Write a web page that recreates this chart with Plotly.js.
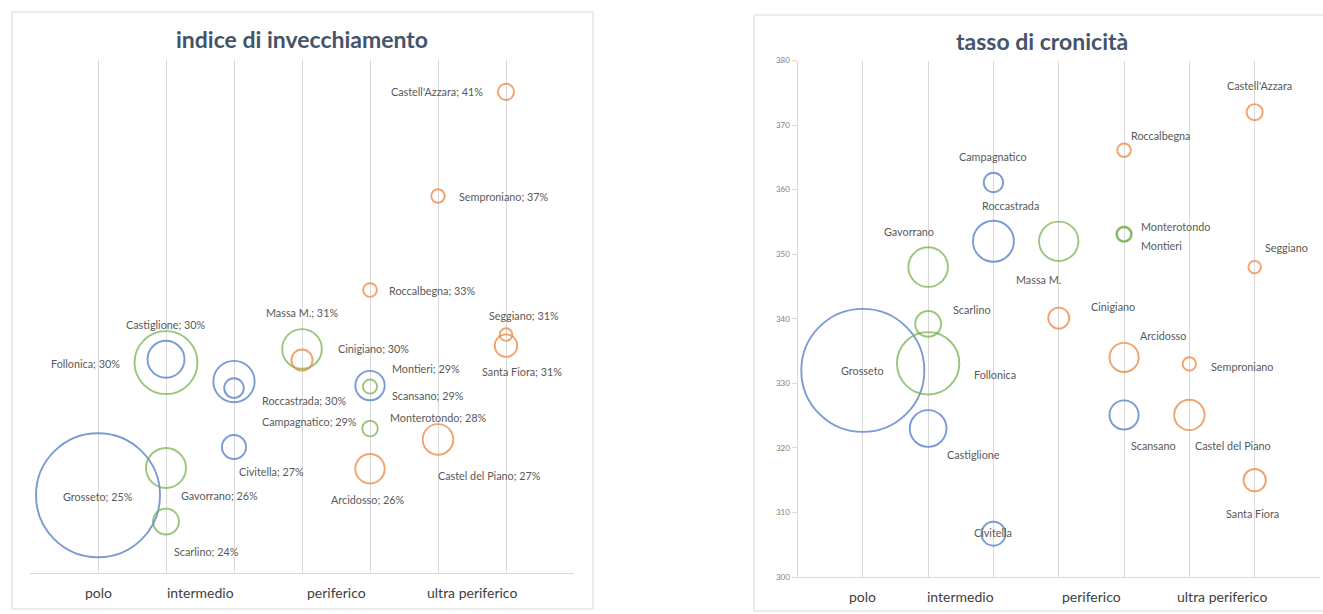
<!DOCTYPE html>
<html><head><meta charset="utf-8">
<script src="https://cdn.plot.ly/plotly-3.0.1.min.js"></script>
<style>html,body{margin:0;padding:0;background:#fff;}#chart{width:1323px;height:614px;}</style>
</head><body><div id="chart"></div>
<script>
// ---------------- DATA ----------------
const towns = ["Grosseto","Follonica","Castiglione","Gavorrano","Scarlino","Roccastrada","Campagnatico","Civitella","Massa M.","Cinigiano","Scansano","Montieri","Monterotondo","Arcidosso","Roccalbegna","Castel del Piano","Semproniano","Castell'Azzara","Seggiano","Santa Fiora"];
const zones = ["Grossetana","Colline Metallifere","Grossetana","Colline Metallifere","Colline Metallifere","Grossetana","Grossetana","Grossetana","Colline Metallifere","Amiata","Grossetana","Colline Metallifere","Colline Metallifere","Amiata","Amiata","Amiata","Amiata","Amiata","Amiata","Amiata"];
const classPos = [1,2,2,2,2,3,3,3,4,4,5,5,5,5,5,6,6,7,7,7];
// bubble size (population, thousands)
const popSize = [82,21.1,7.3,8.5,3.6,9.1,2.05,3.1,8.4,2.4,4.6,1.06,1.3,4.6,1.0,5.0,0.96,1.4,0.85,2.7];
const invecchiamento = [0.2509,0.3034,0.3047,0.2617,0.2405,0.2959,0.2933,0.2700,0.3088,0.3044,0.2943,0.2939,0.2773,0.2614,0.3321,0.2730,0.3693,0.4105,0.3145,0.3101];
const cronicita = [332.0,333.1,323.0,348.0,339.2,352.0,361.1,306.7,352.0,340.1,325.1,353.1,353.1,334.0,366.1,325.1,333.0,372.0,348.0,315.0];
const categories = ["polo","intermedio","periferico","ultra periferico"];
const categoryPos = [1,2.5,4.5,6.5];
const zoneList = ["Grossetana","Colline Metallifere","Amiata"];
const titles = ["indice di invecchiamento","tasso di cronicità"];

// ---------------- STYLE ----------------
const zoneColors = {"Grossetana":"#4472C4","Colline Metallifere":"#70AD47","Amiata":"#ED7D31"};
// label placement: [anchor, dx, dy] in px from bubble centre (dy down)
const leftLbl = [["c",0,1],["r",-44,1],["c",0,-35],["l",13,28],["l",6,30],["l",26,19],["l",26,33],["c",37,24],["c",0,-36],["l",34,-12],["l",20,10],["l",20,-18],["l",18,-11],["c",-3,31],["l",17,0],["c",51,36],["l",19,0],["r",-21,0],["c",18,-19],["c",16,26]];
const rightLbl = [["c",0,0],["l",44,11],["c",45,26],["c",-19,-36],["l",23,-14],["c",17,-36],["c",0,-26],["c",0,-1],["c",-20,38],["l",30,-12],["c",29,31],["l",15,11],["l",15,-8],["l",14,-22],["l",5,-15],["c",44,31],["l",20,3],["c",5,-27],["l",8,-20],["c",-2,33]];

const W = 1323, H = 614;
const px = v => v / W, py = v => 1 - v / H;
const FONT = "Lato, 'Open Sans', sans-serif";
const GRID = "#D9D9D9";
const LBL = "#595959";

const maxPop = Math.max(...popSize);
const sizeRefL = 2 * maxPop / (124 * 124);
const sizeRefR = 2 * maxPop / (123 * 123);

const traces = [];
function addTraces(vals, xa, ya, sref) {
  zoneList.forEach(z => {
    const idx = towns.map((t, i) => i).filter(i => zones[i] === z);
    traces.push({
      type: "scatter", mode: "markers", name: z, xaxis: xa, yaxis: ya,
      x: idx.map(i => classPos[i]), y: idx.map(i => vals[i]),
      text: idx.map(i => towns[i]), hoverinfo: "text+y",
      marker: { size: idx.map(i => popSize[i]), sizemode: "area", sizeref: sref, sizemin: 0,
        color: "rgba(0,0,0,0)", line: { color: zoneColors[z], width: 1.9 } },
      showlegend: false, cliponaxis: false
    });
  });
}
addTraces(invecchiamento, "x", "y", sizeRefL);
addTraces(cronicita, "x2", "y2", sizeRefR);

const anchorMap = { c: "center", l: "left", r: "right" };
const annotations = [];
towns.forEach((t, i) => {
  const a = leftLbl[i];
  annotations.push({ xref: "x", yref: "y", x: classPos[i], y: invecchiamento[i],
    text: t + "; " + Math.round(invecchiamento[i] * 100) + "%", showarrow: false,
    xanchor: anchorMap[a[0]], yanchor: "middle", xshift: a[1], yshift: -a[2],
    font: { family: FONT, size: 10.8, color: LBL } });
  const b = rightLbl[i];
  annotations.push({ xref: "x2", yref: "y2", x: classPos[i], y: cronicita[i],
    text: t, showarrow: false,
    xanchor: anchorMap[b[0]], yanchor: "middle", xshift: b[1], yshift: -b[2],
    font: { family: FONT, size: 10.8, color: LBL } });
});
categories.forEach((c, k) => {
  annotations.push({ xref: "x", yref: "paper", x: categoryPos[k], y: py(592), text: c, showarrow: false,
    xanchor: "center", yanchor: "middle", font: { family: FONT, size: 14, color: "#404040" } });
  annotations.push({ xref: "x2", yref: "paper", x: categoryPos[k], y: py(596.5), text: c, showarrow: false,
    xanchor: "center", yanchor: "middle", font: { family: FONT, size: 14, color: "#404040" } });
});
annotations.push({ xref: "paper", yref: "paper", x: px(302), y: py(39), text: "<b>" + titles[0] + "</b>",
  showarrow: false, xanchor: "center", yanchor: "middle", font: { family: FONT, size: 23, color: "#44546A" } });
annotations.push({ xref: "paper", yref: "paper", x: px(1042), y: py(41), text: "<b>" + titles[1] + "</b>",
  showarrow: false, xanchor: "center", yanchor: "middle", font: { family: FONT, size: 23, color: "#44546A" } });

const xBase = { range: [0, 8], tick0: 0, dtick: 1, showgrid: true, gridcolor: GRID, gridwidth: 1,
  showticklabels: false, ticks: "", zeroline: false, showline: true, linecolor: GRID, linewidth: 1, fixedrange: true };

const layout = {
  width: W, height: H, margin: { l: 0, r: 0, t: 0, b: 0 },
  paper_bgcolor: "#fff", plot_bgcolor: "rgba(0,0,0,0)", showlegend: false,
  xaxis: Object.assign({}, xBase, { domain: [px(30), px(574)], anchor: "y" }),
  yaxis: { domain: [py(573.4), py(60)], range: [0.22, 0.4231], visible: false, showgrid: false, zeroline: false, anchor: "x", fixedrange: true },
  xaxis2: Object.assign({}, xBase, { domain: [px(797.5), px(1320)], anchor: "y2" }),
  yaxis2: { domain: [py(577), py(60.5)], range: [300, 380], dtick: 10, tick0: 300, showgrid: false, zeroline: false,
    showline: true, linecolor: GRID, ticks: "outside", ticklen: 5, tickcolor: GRID,
    tickfont: { family: FONT, size: 8, color: "#7F7F7F" }, anchor: "x2", fixedrange: true },
  shapes: [
    { type: "rect", xref: "paper", yref: "paper", x0: px(12), x1: px(593), y0: py(609), y1: py(12), line: { color: GRID, width: 1 } },
    { type: "rect", xref: "paper", yref: "paper", x0: px(754), x1: px(1340), y0: py(611), y1: py(15), line: { color: GRID, width: 1 } }
  ],
  annotations: annotations
};

Plotly.newPlot("chart", traces, layout, { displayModeBar: false, staticPlot: true });
</script>
</body></html>
